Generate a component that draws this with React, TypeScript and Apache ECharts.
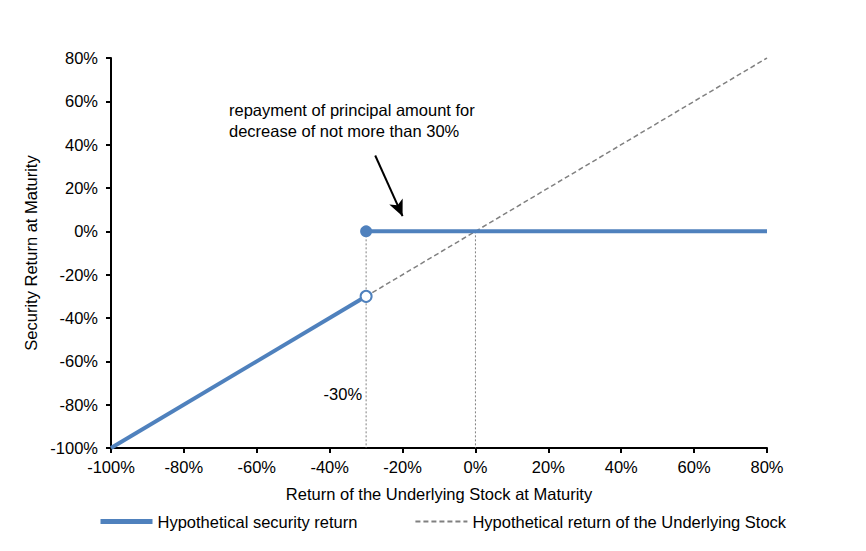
import * as echarts from "echarts";
import { useEffect, useRef } from "react";

const xTicks = [-100, -80, -60, -40, -20, 0, 20, 40, 60, 80];
const yTicks = [-100, -80, -60, -40, -20, 0, 20, 40, 60, 80];

// security return: below the barrier it follows the stock, above it pays back principal
const securityLow = [
  [-100, -100],
  [-30, -30],
];
const securityFlat = [
  [-30, 0],
  [80, 0],
];
const underlying = [
  [-100, -100],
  [80, 80],
];
const barrierGuide = [
  [-30, 0],
  [-30, -100],
];
const zeroGuide = [
  [0, 0],
  [0, -100],
];
const openPoint = [[-30, -30]];
const filledPoint = [[-30, 0]];
const arrowFrom = [-27.5, 35];
const arrowTo = [-20, 7];
const barrierLabel = [[-30, -75]];

const BLUE = "#4F81BD";
const GRAY = "#808080";
const FONT = "Liberation Sans";
const FS = 16.5;

const App = () => {
  const chartRef = useRef<HTMLDivElement>(null);

  useEffect(() => {
    const chart = echarts.init(chartRef.current as HTMLDivElement, null, {
      renderer: "svg",
    });

    const option = {
      animation: false,
      textStyle: { fontFamily: FONT, color: "#000" },
      grid: { left: 103, right: 91, top: 50, bottom: 95 },
      legend: {
        bottom: 8,
        left: 85,
        itemWidth: 52,
        itemHeight: 10,
        itemGap: 57,
        itemStyle: { opacity: 0 },
        textStyle: { fontFamily: FONT, fontSize: FS, color: "#000" },
        data: [
          { name: "Hypothetical security return", lineStyle: { width: 5 } },
          { name: "Hypothetical return of the Underlying Stock" },
        ],
      },
      xAxis: {
        type: "value",
        min: xTicks[0],
        max: xTicks[xTicks.length - 1],
        interval: 20,
        name: "Return of the Underlying Stock at Maturity",
        nameLocation: "middle",
        nameGap: 37,
        nameTextStyle: { fontFamily: FONT, fontSize: FS, color: "#000" },
        axisLine: { onZero: false, lineStyle: { color: "#000", width: 2 } },
        axisTick: { show: true, length: 5, lineStyle: { color: "#000", width: 2 } },
        axisLabel: {
          fontFamily: FONT,
          fontSize: FS,
          color: "#000",
          margin: 10,
          formatter: (v: number) => `${v}%`,
        },
        splitLine: { show: false },
      },
      yAxis: {
        type: "value",
        min: yTicks[0],
        max: yTicks[yTicks.length - 1],
        interval: 20,
        name: "Security Return at Maturity",
        nameLocation: "middle",
        nameGap: 68,
        nameTextStyle: { fontFamily: FONT, fontSize: FS, color: "#000" },
        axisLine: { show: true, onZero: false, lineStyle: { color: "#000", width: 2 } },
        axisTick: { show: true, length: 5, lineStyle: { color: "#000", width: 2 } },
        axisLabel: {
          fontFamily: FONT,
          fontSize: FS,
          color: "#000",
          margin: 13,
          formatter: (v: number) => `${v}%`,
        },
        splitLine: { show: false },
      },
      graphic: [
        {
          type: "text",
          left: 221,
          top: 91,
          style: {
            text: "repayment of principal amount for\ndecrease of not more than 30%",
            font: `${FS}px "${FONT}"`,
            fill: "#000",
            lineHeight: 21,
          },
        },
      ],
      series: [
        {
          name: "Hypothetical return of the Underlying Stock",
          type: "line",
          data: underlying,
          symbol: "none",
          z: 1,
          color: GRAY,
          lineStyle: { color: GRAY, width: 1.5, type: [5, 3] },
        },
        {
          type: "line",
          data: barrierGuide,
          symbol: "none",
          z: 1,
          silent: true,
          lineStyle: { color: GRAY, width: 1, type: [2, 2] },
        },
        {
          type: "line",
          data: zeroGuide,
          symbol: "none",
          z: 1,
          silent: true,
          lineStyle: { color: GRAY, width: 1, type: [2, 2] },
        },
        {
          name: "Hypothetical security return",
          type: "line",
          data: securityLow,
          symbol: "none",
          z: 3,
          color: BLUE,
          lineStyle: { color: BLUE, width: 4 },
        },
        {
          name: "Hypothetical security return",
          type: "line",
          data: securityFlat,
          symbol: "none",
          z: 3,
          color: BLUE,
          lineStyle: { color: BLUE, width: 4 },
          markLine: {
            silent: true,
            symbol: ["none", "arrow"],
            symbolSize: [11, 16],
            label: { show: false },
            lineStyle: { color: "#000", width: 2, type: "solid" },
            data: [[{ coord: arrowFrom }, { coord: arrowTo }]],
          },
        },
        {
          type: "scatter",
          data: openPoint,
          symbol: "circle",
          symbolSize: 11,
          z: 5,
          itemStyle: { color: "#fff", borderColor: BLUE, borderWidth: 2, opacity: 1 },
        },
        {
          type: "scatter",
          data: filledPoint,
          symbol: "circle",
          symbolSize: 12,
          z: 5,
          itemStyle: { color: BLUE, opacity: 1 },
        },
        {
          type: "scatter",
          data: barrierLabel,
          symbolSize: 0,
          silent: true,
          itemStyle: { opacity: 1 },
          label: {
            show: true,
            position: "left",
            distance: 4,
            formatter: "-30%",
            fontFamily: FONT,
            fontSize: FS,
            color: "#000",
            opacity: 1,
          },
        },
      ],
    };

    chart.setOption(option);
    return () => {
      chart.dispose();
    };
  }, []);

  return <div ref={chartRef} style={{ width: "850px", height: "535px" }} />;
};

export default App;
